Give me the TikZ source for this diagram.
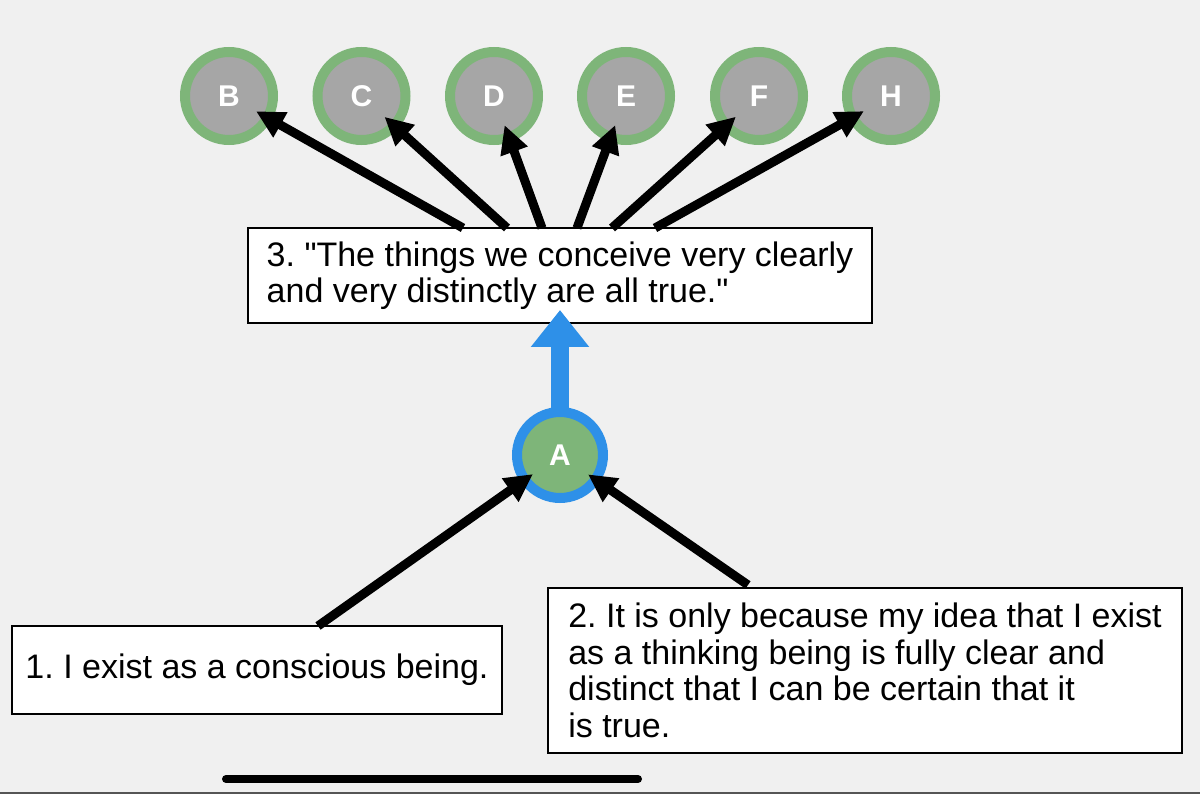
\documentclass[tikz,border=0pt]{standalone}
\usepackage{fontspec}
\setmainfont[Ligatures=TeXOff]{Liberation Sans}
\usetikzlibrary{arrows.meta}
\definecolor{bgc}{RGB}{240,240,240}
\definecolor{ringgreen}{RGB}{126,181,121}
\definecolor{fillgray}{RGB}{166,166,166}
\definecolor{ringblue}{RGB}{46,144,232}
\definecolor{bottomgray}{RGB}{85,85,85}
\frenchspacing
\begin{document}
\begin{tikzpicture}[x=1pt,y=-1pt,
  target/.style={circle, minimum size=88pt, inner sep=0pt, outer sep=0pt,
    line width=10pt, draw=ringgreen, fill=fillgray, text=white,
    font=\fontsize{30pt}{30pt}\selectfont\bfseries},
  hub/.style={circle, minimum size=86pt, inner sep=0pt, outer sep=0pt,
    line width=10pt, draw=ringblue, fill=ringgreen, text=white,
    font=\fontsize{30pt}{30pt}\selectfont\bfseries},
  textbox/.style={draw=black, line width=2pt, fill=white, inner sep=0pt,
    outer sep=0pt, align=left, font=\fontsize{34pt}{36.5pt}\selectfont\frenchspacing},
  blackarr/.style={line width=9pt, draw=black,
    -{Triangle[length=28pt,width=27pt]}},
  bluearr/.style={line width=18pt, draw=ringblue,
    -{Triangle[length=37pt,width=56pt]}}
]
\fill[bgc] (0,0) rectangle (1200,794);
\useasboundingbox (0,0) rectangle (1200,794);

% top circles
\node[target] (B) at (229,96) {B};
\node[target] (C) at (361.5,96) {C};
\node[target] (D) at (494,96) {D};
\node[target] (E) at (626,96) {E};
\node[target] (F) at (759,96) {F};
\node[target] (H) at (891,96) {H};

% boxes
\node[textbox, minimum width=624pt, minimum height=95pt] (box3) at (560,275.5)
  {3. "The things we conceive very clearly\\and very distinctly are all true."};
\node[textbox, minimum width=490pt, minimum height=88pt] (box1) at (257,670)
  {1. I exist as a conscious being.};
\node[textbox, minimum width=634pt, minimum height=165pt] (box2) at (865,670.5)
  {2. It is only because my idea that I exist\\as a thinking being is fully clear and\\distinct that I can be certain that it\\is true.};

% hub
\node[hub] (A) at (560,455) {A};

% blue arrow
\draw[bluearr] (A.north) -- ([yshift=13pt]box3.south);

% arrows to top circles
\draw[blackarr, shorten >=-13pt] ([xshift=-97pt]box3.north) -- (B);
\draw[blackarr, shorten >=-13pt] ([xshift=-53pt]box3.north) -- (C);
\draw[blackarr, shorten >=-13pt] ([xshift=-18pt]box3.north) -- (D);
\draw[blackarr, shorten >=-13pt] ([xshift=17pt]box3.north) -- (E);
\draw[blackarr, shorten >=-13pt] ([xshift=52pt]box3.north) -- (F);
\draw[blackarr, shorten >=-13pt] ([xshift=95pt]box3.north) -- (H);

% arrows to A
\draw[blackarr, shorten >=-10pt] ([xshift=61pt]box1.north) -- (A);
\draw[blackarr, shorten >=-9pt] ([xshift=-117pt,yshift=3pt]box2.north) -- (A);

% bottom decorations
\draw[line width=8pt, line cap=round, black] (226,779) -- (638,779);
\fill[bottomgray] (0,791.5) rectangle (1200,794);
\end{tikzpicture}
\end{document}
